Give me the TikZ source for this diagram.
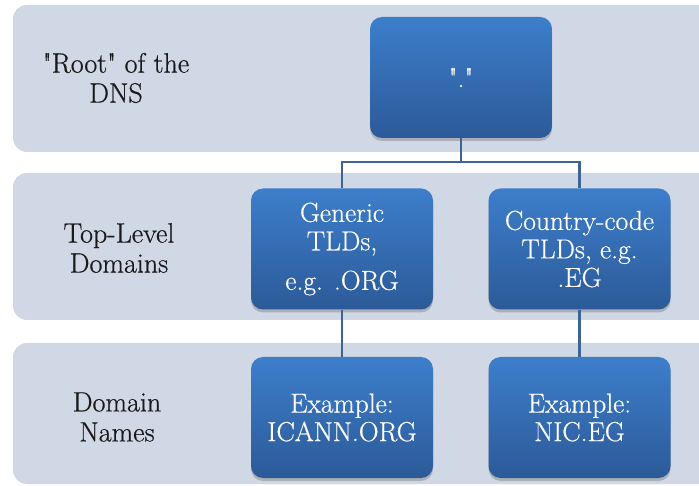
\documentclass[tikz,border=0pt]{standalone}
\usepackage{fontspec}
\newfontfamily\lmfont{Latin Modern Roman}[FakeBold=0.5]
\usetikzlibrary{shadows,calc}
\definecolor{bandc}{HTML}{D0D7E5}
\definecolor{boxtop}{HTML}{3D7ECB}
\definecolor{boxbot}{HTML}{2C5A98}
\definecolor{linec}{HTML}{3E6496}
\tikzset{
  band/.style={fill=bandc, rounded corners=14pt, draw=none},
  lvl/.style={align=center, font=\lmfont\fontsize{28}{30}\selectfont, text=black!90},
  tbox/.style={rounded corners=12pt, top color=boxtop, bottom color=boxbot, draw=none,
    minimum width=182pt, minimum height=121pt, align=center, text=white,
    font=\lmfont\fontsize{27.5}{28.5}\selectfont,
    drop shadow={shadow xshift=0pt, shadow yshift=-3pt, opacity=0.35, fill=black!60}},
  conn/.style={draw=linec, line width=2.5pt}
}
\begin{document}
\begin{tikzpicture}[x=1pt,y=-1pt]
\useasboundingbox (0,0) rectangle (699,486);
\clip (0,0) rectangle (699,486);
\fill[white] (0,0) rectangle (699,486);
\path[band] (13,5) rectangle (730,152);
\path[band] (13,173) rectangle (730,320);
\path[band] (13,343) rectangle (730,484);
\node[lvl] (l1) at (116,78) {"Root" of the\\DNS};
\node[lvl] (l2) at (119,248) {Top-Level\\Domains};
\node[lvl] (l3) at (117,417) {Domain\\Names};
\node[tbox] (root) at (461,77.5) {"."};
\node[tbox] (gen) at (342,249) {Generic\\TLDs,\\[11pt]e.g. .ORG};
\node[tbox] (cc) at (579.5,249) {Country-code\\TLDs, e.g.\\.EG};
\node[tbox] (ex1) at (342,417.5) {Example:\\ICANN.ORG};
\node[tbox] (ex2) at (579.5,417.5) {Example:\\NIC.EG};
\coordinate (j) at (461,162);
\draw[conn] (root.south) -- (j) -| (gen.north);
\draw[conn] (j) -| (cc.north);
\draw[conn] (gen.south) -- (ex1.north);
\draw[conn] (cc.south) -- (ex2.north);
\end{tikzpicture}
\end{document}
